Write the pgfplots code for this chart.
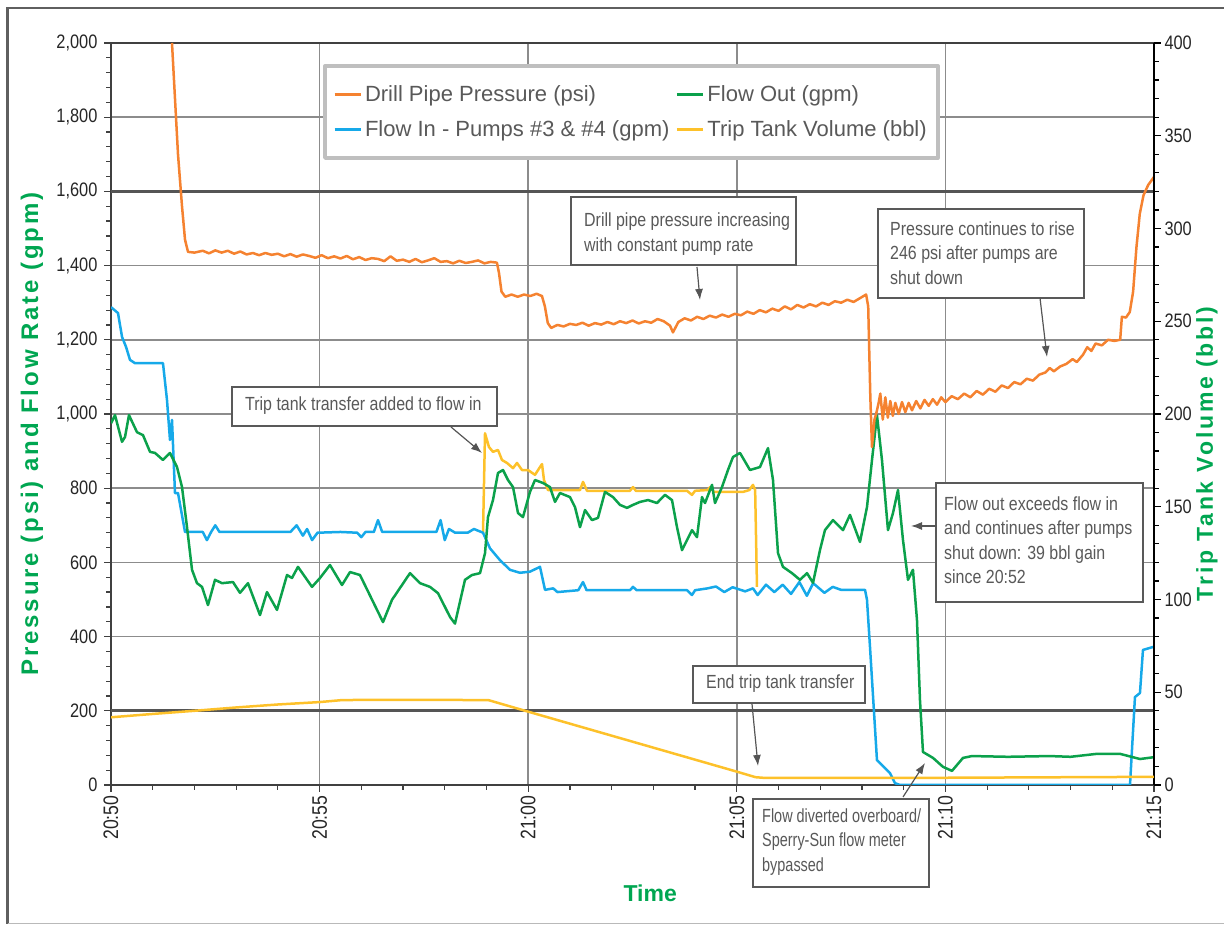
\documentclass[border=0pt]{standalone}
\usepackage{pgfplots}
\pgfplotsset{compat=1.18}
\usepackage{fontspec}
\setmainfont{Liberation Sans}
\newfontfamily\narrowfont{Liberation Sans}[FakeStretch=0.84]
\newfontfamily\narrowerfont{Liberation Sans}[FakeStretch=0.76]
\newfontfamily\spacedfont{Liberation Sans}[LetterSpace=12]
\usetikzlibrary{arrows.meta}

\definecolor{dppcol}{HTML}{F58230}
\definecolor{incol}{HTML}{16A9E9}
\definecolor{outcol}{HTML}{0BA14B}
\definecolor{tripcol}{HTML}{FDC12A}
\definecolor{labelgreen}{HTML}{00A651}
\definecolor{gridgray}{HTML}{8C8C8C}
\definecolor{griddark}{HTML}{555555}
\definecolor{axisdark}{HTML}{404040}
\definecolor{ticktext}{HTML}{262626}
\definecolor{legtext}{HTML}{595959}
\definecolor{legframe}{HTML}{BFBFBF}
\definecolor{boxframe}{HTML}{595959}
\definecolor{framegray}{HTML}{5F5F5F}

\tikzset{
  annbox/.style={draw=boxframe, line width=2.5pt, fill=white},
  anntext/.style={anchor=west, align=left, inner sep=0pt, text=legtext,
    font=\narrowfont\fontsize{19}{24.5}\selectfont},
  annarrow/.style={draw=griddark, line width=1.2pt, -{Latex[length=11pt,width=8pt]}},
}

\begin{document}
\begin{tikzpicture}[x=1pt,y=1pt]
\useasboundingbox (0,0) rectangle (1224,926);
\draw[framegray, line width=2.5pt] (7.5,2) -- (7.5,918) -- (1224,918);
\draw[gray!55, line width=1.5pt] (7.5,2.5) -- (1224,2.5);

\begin{axis}[
  at={(111pt,141pt)}, anchor=south west,
  scale only axis, width=1043pt, height=742pt,
  xmin=0, xmax=25, ymin=0, ymax=2000,
  xtick={0,5,...,25},
  xticklabels={20:50,20:55,21:00,21:05,21:10,21:15},
  minor x tick num=4,
  ytick={0,200,...,2000}, minor y tick num=4,
  tick pos=left, tick align=outside,
  major tick length=7pt, minor tick length=5pt,
  tick style={line width=1.2pt, color=axisdark},
  grid=major, grid style={line width=1.5pt, color=gridgray},
  extra y ticks={200,1600}, extra y tick labels={},
  extra y tick style={grid style={line width=3pt, color=griddark}},
  axis line style={line width=2pt, color=axisdark},
  ticklabel style={font=\narrowfont\fontsize{19.5}{20}\selectfont, text=ticktext},
  yticklabel style={xshift=-3pt},
  /pgf/number format/assume math mode=true,
  /pgf/number format/1000 sep={,},
  xticklabel style={rotate=90, anchor=east, font=\narrowfont\fontsize{21}{22}\selectfont},
  xlabel={Time},
  ylabel={Pressure (psi) and Flow Rate (gpm)},
  xlabel style={font=\bfseries\fontsize{23}{26}\selectfont, text=labelgreen,
    at={(axis description cs:0.517,-0.1456)}, anchor=center},
  ylabel style={font=\spacedfont\bfseries\fontsize{24}{26}\selectfont, text=labelgreen,
    at={(axis description cs:-0.0757,0.473)}, anchor=center},
  legend columns=2,
  legend cell align=left,
  legend image code/.code={\draw[#1, line width=3pt] (0pt,0pt) -- (26pt,0pt);},
  legend style={at={(axis description cs:0.2033,0.9717)}, anchor=north west,
    draw=legframe, line width=4pt, fill=white,
    inner xsep=8pt, inner ysep=17pt, row sep=11pt,
    font=\fontsize{22}{25}\selectfont, text=legtext,
    nodes={inner sep=3pt},
    /tikz/every even column/.append style={column sep=3pt}},
  line join=round,
]
% trip tank transfer added to flow in
\addplot[tripcol, line width=2.5pt, forget plot] coordinates {
(8.917,680) (8.965,948) (9.060,911) (9.156,898) (9.276,903) (9.372,876)
(9.492,868) (9.636,854) (9.732,868) (9.851,849) (9.995,849) (10.163,836)
(10.30,860) (10.331,865) (10.379,822) (10.475,795) (11.242,795) (11.314,817)
(11.409,793) (12.440,793) (12.512,803) (12.58,793) (13.806,793) (13.926,782)
(14.0,793) (14.3,795) (14.36,803) (14.45,790) (15.149,790) (15.3,795)
(15.388,809) (15.44,795) (15.484,534)
};
% flow in
\addplot[incol, line width=2.5pt, forget plot] coordinates {
(0,1288) (0.168,1272) (0.264,1208) (0.360,1181) (0.455,1146) (0.575,1137)
(1.246,1137) (1.342,1038) (1.414,930) (1.462,984) (1.534,787) (1.606,787)
(1.774,682) (2.2,682) (2.3,660) (2.4,682) (2.5,700) (2.6,682) (4.3,682)
(4.45,700) (4.6,672) (4.7,690) (4.82,660) (4.95,680) (5.5,682) (5.9,680)
(6.0,668) (6.1,682) (6.3,682) (6.4,714) (6.5,682) (7.8,682) (7.9,714)
(8.0,660) (8.1,690) (8.25,680) (8.55,680) (8.7,690) (8.917,680) (9.084,638)
(9.324,606) (9.564,580) (9.803,572) (10.043,575) (10.283,588) (10.403,526)
(10.6,530) (10.7,520) (11.2,525) (11.314,547) (11.4,525) (12.44,525)
(12.512,534) (12.6,525) (13.806,525) (13.926,512) (14.0,525) (14.3,530)
(14.5,535) (14.7,520) (14.9,533) (15.2,522) (15.388,530) (15.5,512)
(15.7,540) (15.9,520) (16.1,540) (16.3,515) (16.5,547) (16.68,510)
(16.83,544) (17.1,518) (17.3,534) (17.5,526) (18.073,526) (18.121,499)
(18.193,372) (18.36,67) (18.672,32) (18.792,5) (18.912,0) (24.425,0)
(24.544,237) (24.664,248) (24.736,364) (24.976,372) (25,372)
};
% flow out
\addplot[outcol, line width=2.5pt, forget plot] coordinates {
(0,975) (0.096,997) (0.264,925) (0.336,938) (0.431,997) (0.623,951)
(0.767,943) (0.935,898) (1.055,895) (1.246,876) (1.414,895) (1.582,857)
(1.702,803) (1.822,695) (1.942,580) (2.061,544) (2.181,534) (2.325,485)
(2.493,553) (2.661,544) (2.924,547) (3.092,518) (3.284,544) (3.571,458)
(3.739,520) (3.979,472) (4.219,566) (4.338,558) (4.482,588) (4.818,534)
(5.010,558) (5.249,593) (5.537,539) (5.729,574) (5.968,566) (6.520,439)
(6.735,499) (7.167,571) (7.407,544) (7.646,534) (7.838,517) (8.126,453)
(8.245,435) (8.485,553) (8.653,566) (8.845,571) (8.965,625) (9.036,722)
(9.156,768) (9.276,841) (9.396,849) (9.516,822) (9.636,803) (9.756,733)
(9.875,722) (10.043,790) (10.163,822) (10.355,814) (10.522,803) (10.642,763)
(10.762,787) (11.002,776) (11.122,749) (11.242,695) (11.362,741) (11.529,714)
(11.673,720) (11.841,790) (12.033,776) (12.200,755) (12.368,747) (12.512,755)
(12.680,763) (12.872,768) (13.087,760) (13.279,782) (13.447,768) (13.567,695)
(13.687,633) (13.806,660) (13.926,687) (14.046,668) (14.166,776) (14.238,760)
(14.406,809) (14.478,760) (14.645,803) (14.789,849) (14.909,884) (15.077,895)
(15.316,849) (15.556,857) (15.748,908) (15.868,822) (15.988,625) (16.107,588)
(16.323,571) (16.515,553) (16.683,571) (16.827,545) (16.994,633) (17.114,687)
(17.306,714) (17.546,687) (17.713,728) (17.953,655) (18.121,749) (18.241,876)
(18.360,997) (18.480,876) (18.624,687) (18.744,733) (18.864,795) (18.984,660)
(19.104,553) (19.223,580) (19.319,445) (19.391,229) (19.463,89) (19.703,73)
(19.942,49) (20.158,38) (20.422,73) (20.638,78) (21.5,76) (22.5,78) (23.0,76)
(23.634,84) (24.185,84) (24.664,70) (25.0,75)
};
% drill pipe pressure
\addplot[dppcol, line width=2.5pt, forget plot] coordinates {
(1.462,2000) (1.534,1850) (1.606,1700) (1.702,1560) (1.774,1470) (1.846,1437)
(2.0,1435) (2.2,1440) (2.35,1433) (2.5,1441) (2.65,1435) (2.8,1440)
(2.95,1432) (3.1,1438) (3.25,1430) (3.4,1434) (3.55,1428) (3.7,1434)
(3.85,1429) (4.0,1432) (4.15,1425) (4.3,1431) (4.45,1424) (4.6,1430)
(4.75,1426) (4.9,1421) (5.05,1428) (5.2,1420) (5.35,1425) (5.5,1419)
(5.65,1426) (5.8,1417) (5.95,1423) (6.1,1415) (6.25,1420) (6.4,1418)
(6.55,1412) (6.7,1425) (6.85,1413) (7.0,1416) (7.15,1410) (7.3,1418)
(7.45,1409) (7.6,1414) (7.75,1420) (7.9,1410) (8.05,1412) (8.2,1406)
(8.35,1413) (8.5,1407) (8.65,1410) (8.8,1414) (8.95,1406) (9.1,1410)
(9.25,1408) (9.3,1380) (9.36,1330) (9.45,1316) (9.6,1322) (9.75,1316)
(9.9,1322) (10.05,1318) (10.2,1324) (10.33,1318) (10.4,1290) (10.47,1245)
(10.55,1232) (10.7,1240) (10.85,1236) (11.0,1243) (11.15,1240) (11.3,1246)
(11.45,1238) (11.6,1245) (11.75,1241) (11.9,1248) (12.05,1242) (12.2,1250)
(12.35,1245) (12.5,1252) (12.65,1244) (12.8,1250) (12.95,1246) (13.1,1256)
(13.25,1250) (13.4,1238) (13.47,1220) (13.6,1248) (13.75,1258) (13.9,1252)
(14.05,1262) (14.2,1256) (14.35,1265) (14.5,1260) (14.65,1268) (14.8,1262)
(14.95,1270) (15.1,1266) (15.25,1276) (15.4,1270) (15.55,1280) (15.7,1274)
(15.85,1284) (16.0,1278) (16.15,1290) (16.3,1282) (16.45,1294) (16.6,1287)
(16.75,1296) (16.9,1290) (17.05,1300) (17.2,1294) (17.35,1304) (17.5,1300)
(17.65,1308) (17.8,1302) (17.95,1312) (18.1,1322) (18.15,1290) (18.2,1050)
(18.24,911) (18.3,985) (18.34,1000) (18.4,1030) (18.44,1055) (18.5,985)
(18.56,1045) (18.62,990) (18.68,1035) (18.74,995) (18.8,1030) (18.88,1000)
(18.96,1032) (19.04,1005) (19.12,1030) (19.2,1010) (19.3,1035) (19.4,1015)
(19.5,1038) (19.6,1022) (19.7,1040) (19.8,1025) (19.9,1045) (20.0,1032)
(20.15,1048) (20.3,1040) (20.45,1055) (20.6,1045) (20.75,1062) (20.9,1052)
(21.05,1068) (21.2,1060) (21.35,1077) (21.5,1070) (21.65,1086) (21.8,1080)
(21.95,1095) (22.1,1090) (22.25,1106) (22.4,1112) (22.5,1124) (22.6,1115)
(22.75,1128) (22.9,1135) (23.05,1148) (23.15,1140) (23.3,1160) (23.4,1180)
(23.5,1170) (23.6,1190) (23.75,1185) (23.9,1200) (24.05,1197) (24.19,1200)
(24.23,1262) (24.33,1260) (24.42,1275) (24.5,1330) (24.58,1450) (24.66,1540)
(24.75,1590) (24.86,1617) (25.0,1639)
};
\addlegendimage{dppcol}
\addlegendentry{Drill Pipe Pressure (psi)}
\addlegendimage{outcol}
\addlegendentry{Flow Out (gpm)}
\addlegendimage{incol}
\addlegendentry{Flow In - Pumps \#3 \& \#4 (gpm)}
\addlegendimage{tripcol}
\addlegendentry{Trip Tank Volume (bbl)}
\end{axis}

\begin{axis}[
  at={(111pt,141pt)}, anchor=south west,
  scale only axis, width=1043pt, height=742pt,
  xmin=0, xmax=25, ymin=0, ymax=400,
  axis x line=none, axis y line*=right,
  ytick={0,50,...,400}, minor y tick num=4,
  tick align=outside,
  major tick length=7pt, minor tick length=5pt,
  tick style={line width=1.2pt, color=black},
  y axis line style={-, line width=1.5pt, color=black},
  ticklabel style={font=\narrowfont\fontsize{19.5}{20}\selectfont, text=ticktext},
  /pgf/number format/assume math mode=true,
  ylabel={Trip Tank Volume (bbl)},
  ylabel style={font=\spacedfont\bfseries\fontsize{23}{26}\selectfont, text=labelgreen,
    at={(axis description cs:1.0508,0.446)}, anchor=center, rotate=0},
  line join=round,
]
\addplot[tripcol, line width=2.5pt] coordinates {
(0,36.5) (1,38.3) (2,40.0) (3,41.8) (4,43.4) (5,44.7) (5.5,45.7) (6,45.9)
(9.04,45.8) (10.02,39.4) (15.03,7.0) (15.45,4.2) (15.68,3.8) (20,3.9) (25,4.4)
};
\end{axis}

% annotations
\draw[annbox] (571,729) rectangle (796,661);
\node[anntext] at (584,692) {Drill pipe pressure increasing\\with constant pump rate};
\draw[annarrow] (697,659) -- (700,626);

\draw[annbox] (878,717) rectangle (1084,628);
\node[anntext] at (890,673) {Pressure continues to rise\\246 psi after pumps are\\shut down};
\draw[annarrow] (1040,628) -- (1047,569);

\draw[annbox] (232,539) rectangle (497,500);
\node[anntext] at (245,520) {Trip tank transfer added to flow in};
\draw[annarrow] (451,499) -- (482,473);

\draw[annbox] (936,443) rectangle (1143,324);
\node[anntext] at (944,386) {Flow out exceeds flow in\\and continues after pumps\\shut down: 39 bbl gain\\since 20:52};
\draw[annarrow] (936,400) -- (911,400);

\draw[annbox] (693,260) rectangle (865,223);
\node[anntext] at (706,242) {End trip tank transfer};
\draw[annarrow] (752,222) -- (758,160);

\draw[annbox] (753,127) rectangle (929,39);
\node[anntext, font=\narrowerfont\fontsize{19}{24.5}\selectfont] at (762,84) {Flow diverted overboard/\\Sperry-Sun flow meter\\bypassed};
\draw[annarrow] (903,129) -- (925,163);
\end{tikzpicture}
\end{document}
